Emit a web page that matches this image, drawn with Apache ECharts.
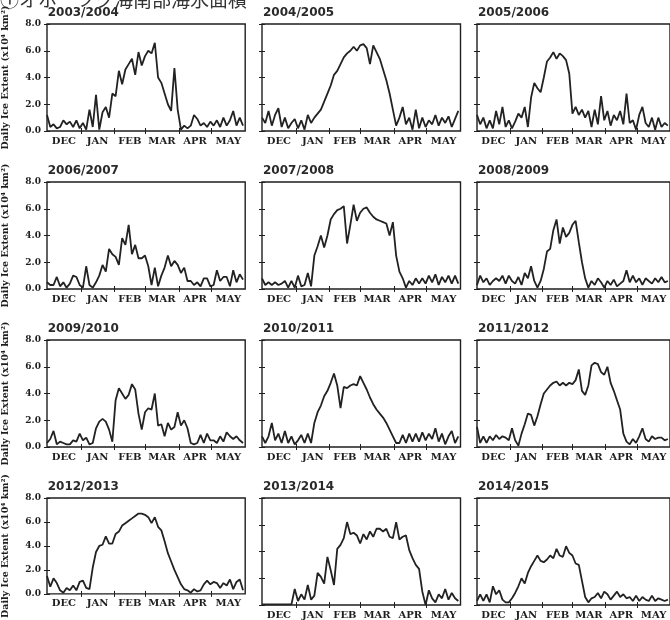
<!DOCTYPE html>
<html><head><meta charset="utf-8">
<script src="https://cdn.jsdelivr.net/npm/echarts@6/dist/echarts.min.js"></script>
<style>html,body{margin:0;padding:0;background:#fff}#c{width:670px;height:620px}</style>
</head><body><div id="c"></div>
<script>
const seasons = ['2003/2004','2004/2005','2005/2006','2006/2007','2007/2008','2008/2009','2009/2010','2010/2011','2011/2012','2012/2013','2013/2014','2014/2015'];
const months = ['DEC','JAN','FEB','MAR','APR','MAY'];
const monthBounds = [31,62,90,121,151];
const monthMids = [15.5,46.5,76,105.5,136,166.5];
const yTicks = ['0.0','2.0','4.0','6.0','8.0'];
const STEP = 3; // days between samples, starting Dec 1

const s0304 = [1.2,0.3,0.5,0.2,0.3,0.8,0.5,0.7,0.3,0.8,0.2,0.6,0.1,1.6,0.3,2.7,0.1,1.4,1.8,1.0,2.8,2.6,4.5,3.5,4.6,5.0,5.4,4.2,5.9,4.9,5.6,6.0,5.8,6.6,4.0,3.6,2.8,2.0,1.5,4.7,1.6,0.1,0.4,0.2,0.4,1.2,0.9,0.4,0.6,0.3,0.7,0.4,0.8,0.3,1.0,0.4,0.8,1.5,0.4,1.0,0.4];
const s0405 = [1.0,0.6,1.5,0.4,1.2,1.7,0.3,1.0,0.2,0.6,0.9,0.2,0.8,0.1,1.2,0.6,1.0,1.3,1.6,2.2,2.8,3.4,4.2,4.5,5.0,5.5,5.8,6.0,6.3,6.0,6.4,6.5,6.2,5.0,6.4,5.9,5.4,4.6,3.8,2.8,1.6,0.4,1.0,1.8,0.5,1.0,0.1,1.6,0.2,1.0,0.3,0.8,0.5,1.2,0.4,1.0,0.6,1.1,0.3,0.9,1.5];
const s0506 = [1.2,0.5,1.0,0.2,0.8,0.2,1.5,0.5,1.8,0.3,0.8,0.2,0.7,1.3,1.0,1.8,0.3,2.5,3.6,3.2,2.9,4.0,5.2,5.5,5.9,5.4,5.8,5.6,5.3,4.3,1.3,1.8,1.2,1.6,1.0,1.5,0.3,1.6,0.5,2.6,0.8,1.5,0.4,1.2,0.8,1.5,0.5,2.8,0.6,0.8,0.1,1.2,1.8,0.6,0.3,1.0,0.1,1.0,0.3,0.6,0.4];
const s0607 = [0.5,0.3,0.3,0.9,0.2,0.5,0.1,0.4,1.0,0.9,0.3,0.1,1.7,0.3,0.1,0.5,1.0,1.8,1.3,3.0,2.6,2.4,1.8,3.8,3.3,4.8,2.6,3.3,2.3,2.3,2.5,1.7,0.3,1.6,0.2,1.0,1.6,2.5,1.7,2.1,1.8,1.2,1.6,0.6,0.6,0.3,0.5,0.2,0.8,0.8,0.2,0.3,1.4,0.6,0.9,0.9,0.2,1.4,0.5,1.1,0.7];
const s0708 = [0.8,0.3,0.5,0.3,0.5,0.3,0.4,0.6,0.1,0.6,0.1,1.0,0.2,0.3,1.2,0.2,2.5,3.2,4.0,3.1,4.0,5.2,5.6,5.9,6.0,6.2,3.4,4.8,6.3,5.1,5.7,6.0,6.1,5.7,5.4,5.2,5.1,5.0,4.9,4.0,5.0,2.5,1.3,0.8,0.1,0.6,0.3,0.8,0.4,0.8,0.4,1.0,0.5,1.1,0.3,0.9,0.5,1.0,0.4,1.0,0.4];
const s0809 = [0.3,1.0,0.5,0.8,0.3,0.6,0.8,0.6,1.0,0.4,1.0,0.6,0.4,0.9,0.3,1.2,0.8,1.7,0.6,0.1,0.6,1.5,2.8,3.0,4.4,5.2,3.4,4.6,3.9,4.2,4.8,5.1,3.5,2.0,0.8,0.1,0.6,0.3,0.8,0.5,0.1,0.6,0.3,0.7,0.2,0.4,0.6,1.4,0.5,1.0,0.5,0.8,0.3,0.8,0.6,0.4,0.8,0.5,0.9,0.5,0.6];
const s0910 = [0.3,0.6,1.2,0.2,0.4,0.3,0.2,0.2,0.5,0.4,1.0,0.5,0.7,0.2,0.3,1.4,1.9,2.1,1.9,1.3,0.4,3.5,4.4,4.0,3.6,3.9,4.7,4.3,2.5,1.3,2.6,2.9,2.8,4.0,1.6,1.7,0.8,1.8,1.3,1.5,2.6,1.6,2.0,1.4,0.3,0.2,0.3,0.9,0.3,1.0,0.5,0.5,0.3,0.8,0.4,1.1,0.8,0.6,0.8,0.5,0.3];
const s1011 = [0.8,0.3,0.8,1.8,0.5,1.0,0.3,1.2,0.3,0.8,0.2,0.5,0.9,0.3,1.0,0.3,1.8,2.6,3.1,3.8,4.2,4.8,5.5,4.6,2.9,4.5,4.4,4.6,4.7,4.6,5.3,4.8,4.3,3.7,3.2,2.8,2.5,2.2,1.8,1.3,0.8,0.3,0.3,0.9,0.3,1.0,0.4,1.0,0.4,1.1,0.5,1.0,0.6,1.4,0.4,1.0,0.2,0.8,1.2,0.3,0.8];
const s1112 = [1.5,0.3,0.8,0.3,0.8,0.5,0.9,0.6,0.8,0.7,0.5,1.4,0.5,0.1,1.0,1.7,2.5,2.4,1.6,2.3,3.2,4.0,4.3,4.6,4.8,4.9,4.6,4.8,4.6,4.8,4.7,5.0,5.8,4.2,3.9,4.6,6.1,6.3,6.2,5.6,5.4,6.0,4.8,4.2,3.5,2.8,1.0,0.4,0.2,0.6,0.3,0.8,1.4,0.6,0.4,0.8,0.6,0.7,0.7,0.5,0.6];
const s1213 = [1.5,0.6,1.3,0.9,0.3,0.1,0.5,0.3,0.7,0.3,1.0,1.1,0.5,0.4,2.2,3.5,4.0,4.1,4.8,4.2,4.2,5.0,5.2,5.7,5.9,6.1,6.3,6.5,6.7,6.7,6.6,6.4,5.9,6.4,5.6,5.3,4.4,3.4,2.7,2.0,1.4,0.8,0.4,0.3,0.1,0.4,0.2,0.3,0.8,1.1,0.8,1.0,0.9,0.5,0.9,0.7,1.2,0.4,1.0,1.2,0.3];
const s1314 = [0.05,0.05,0.05,0.05,0.05,0.05,0.05,0.05,0.05,0.05,1.2,0.3,0.8,0.4,1.5,0.4,0.7,2.4,2.1,1.6,3.6,2.6,1.5,4.2,4.5,5.0,6.2,5.3,5.4,5.2,4.6,5.3,4.9,5.5,5.1,5.7,5.7,5.5,5.7,5.1,5.0,6.2,4.9,5.1,5.2,4.1,3.5,3.0,2.7,1.0,0.0,1.1,0.5,0.2,0.8,0.5,1.2,0.4,0.9,0.5,0.3];
const s1415 = [0.3,0.8,0.3,0.8,0.2,1.4,0.8,1.1,0.4,0.2,0.2,0.5,0.9,1.4,2.0,1.6,2.4,2.9,3.3,3.7,3.3,3.2,3.4,3.7,3.5,4.2,3.7,3.6,4.4,3.9,3.7,3.1,3.0,1.8,0.6,0.2,0.5,0.6,0.9,0.5,1.0,0.8,0.4,0.7,1.0,0.6,0.8,0.5,0.6,0.3,0.7,0.3,0.6,0.4,0.3,0.7,0.3,0.5,0.4,0.3,0.4];
const seriesValues = [s0304,s0405,s0506,s0607,s0708,s0809,s0910,s1011,s1112,s1213,s1314,s1415];

const colLeft = [46.7, 262, 477];
const rowTop = [24, 182, 340, 498];
const W = 198.5, H = 107;
const ink = '#1e1e1e';
const serif = '"DejaVu Serif", serif';

const grids = [], xAxes = [], yAxes = [], series = [], titles = [];
seasons.forEach((name, k) => {
  const r = Math.floor(k / 3), c = k % 3;
  grids.push({left: colLeft[c], top: rowTop[r], width: W, height: H, show: true,
    borderColor: ink, borderWidth: 1.4, backgroundColor: '#fff'});
  titles.push({text: name, left: colLeft[c] + 1, top: rowTop[r] - 17, padding: 0,
    textStyle: {fontFamily: '"DejaVu Sans", sans-serif', fontSize: 12, fontWeight: 'bold', color: '#2a2a2a'}});
  const tickCfg = {show: true, inside: true, length: 3, customValues: monthBounds, lineStyle: {color: ink, width: 1}};
  xAxes.push({type: 'value', gridIndex: k, min: 0, max: 182, position: 'bottom',
    axisLine: {show: false}, splitLine: {show: false}, axisTick: tickCfg,
    axisLabel: {show: true, customValues: monthMids, margin: 5,
      formatter: v => months[monthMids.indexOf(v)],
      fontFamily: serif, fontSize: 10, fontWeight: 'bold', color: ink}});
  xAxes.push({type: 'value', gridIndex: k, min: 0, max: 182, position: 'top',
    axisLine: {show: false}, splitLine: {show: false}, axisTick: tickCfg, axisLabel: {show: false}});
  const yTickCfg = {show: true, inside: true, length: 3, lineStyle: {color: ink, width: 1}};
  yAxes.push({type: 'value', gridIndex: k, min: 0, max: 8, interval: 2, position: 'left',
    axisLine: {show: false}, splitLine: {show: false}, axisTick: yTickCfg,
    axisLabel: {show: c === 0, margin: 6, formatter: v => yTicks[v / 2],
      fontFamily: serif, fontSize: 9, fontWeight: 'bold', color: ink},
    name: c === 0 ? 'Daily Ice Extent (x10\u2074 km\u00b2)' : '',
    nameLocation: 'middle', nameGap: 36, nameRotate: 90,
    nameTextStyle: {fontFamily: serif, fontSize: 9.5, fontWeight: 'bold', color: ink}});
  yAxes.push({type: 'value', gridIndex: k, min: 0, max: 8, interval: 2, position: 'right',
    axisLine: {show: false}, splitLine: {show: false}, axisTick: yTickCfg, axisLabel: {show: false}});
  series.push({type: 'line', xAxisIndex: 2 * k, yAxisIndex: 2 * k, showSymbol: false,
    data: seriesValues[k].map((v, i) => [i * STEP, v]),
    lineStyle: {color: '#222', width: 1.8}, animation: false});
});

const chart = echarts.init(document.getElementById('c'), null, {renderer: 'canvas'});
chart.setOption({
  backgroundColor: '#fff', animation: false,
  title: titles, grid: grids, xAxis: xAxes, yAxis: yAxes, series: series,
  graphic: [{type: 'text', left: 0, top: -10,
    style: {text: '①オホーツク海南部海氷面積', font: '19px "Noto Sans CJK JP"', fill: '#333'}}]
});
</script></body></html>
